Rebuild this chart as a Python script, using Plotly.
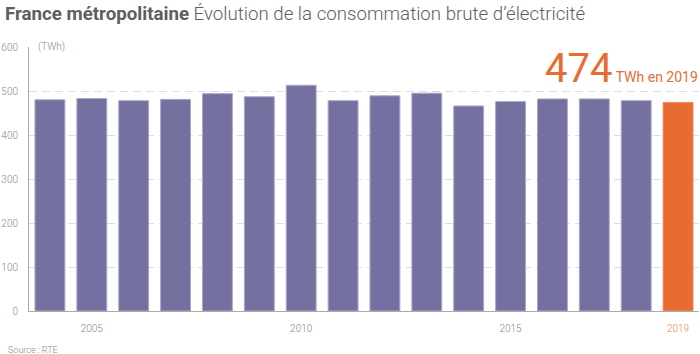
import plotly.graph_objects as go

years = list(range(2004, 2020))
values = [480, 483, 478, 481, 494, 487, 513, 478, 489, 495, 466, 476, 482, 482, 478, 474]
tick_years = [2005, 2010, 2015, 2019]
tick_labels = ["2005", "2010", "2015", "<span style='color:#ec8550'>2019</span>"]

PURPLE = "#7471a1"
ORANGE = "#e86c32"
colors = [ORANGE if y == 2019 else PURPLE for y in years]
line_colors = ["#e98a5c" if y == 2019 else "#aaa8cc" for y in years]

# plot area in pixels
L, R, T, B = 27, 699, 47, 311
W, H = 700, 354
PW, PH = R - L, B - T

def py(p):
    return (B - p) / PH

def px(p):
    return (p - L) / PW

fig = go.Figure()
fig.add_trace(go.Bar(
    x=years, y=values,
    marker=dict(color=colors, line=dict(color=line_colors, width=1)),
    hoverinfo="x+y",
))

fig.update_layout(
    width=W, height=H,
    margin=dict(l=L, r=W - R, t=T, b=H - B),
    paper_bgcolor="white", plot_bgcolor="white",
    font=dict(family="Roboto", color="#888", size=10),
    bargap=12 / 42,
    showlegend=False,
    title=dict(
        text="<b>France métropolitaine</b> Évolution de la consommation brute d’électricité",
        x=5 / W, xref="container", xanchor="left",
        y=1 - 13 / H, yref="container", yanchor="middle",
        font=dict(family="Roboto", size=18.7, color="#5e5e5e", weight=300),
    ),
    xaxis=dict(
        range=[2003.5, 2019.5],
        tickvals=tick_years, ticktext=tick_labels,
        showgrid=False, showline=True, linecolor="#aaaaaa", linewidth=1,
        ticks="", ticklabelstandoff=8,
        tickfont=dict(size=10, color="#888", weight=300),
        zeroline=False, fixedrange=True,
    ),
    yaxis=dict(
        range=[0, 600], tickvals=[0, 100, 200, 300, 400, 500, 600],
        showgrid=True, gridcolor="#dddddd", griddash="8px,5px", gridwidth=1,
        showline=True, linecolor="#aaaaaa", linewidth=1,
        ticks="", ticklabelstandoff=8,
        tickfont=dict(size=10, color="#888", weight=300),
        zeroline=False, fixedrange=True,
    ),
    shapes=[dict(
        type="rect", xref="paper", yref="paper", layer="above",
        x0=px(28), x1=px(72), y0=py(51), y1=py(43),
        fillcolor="white", line=dict(width=0),
    )],
    annotations=[
        dict(text="(TWh)", xref="paper", yref="paper", x=px(34), y=py(47),
             xanchor="left", yanchor="middle", showarrow=False,
             font=dict(size=10, color="#888", weight=300)),
        dict(text="<span style='font-size:40px'>474</span> TWh en 2019",
             xref="paper", yref="paper", x=px(700), y=py(94),
             xanchor="right", yanchor="bottom", showarrow=False,
             font=dict(size=14, color=ORANGE)),
        dict(text="Source : RTE", xref="paper", yref="paper", x=px(4), y=py(350),
             xanchor="left", yanchor="middle", showarrow=False,
             font=dict(size=9, color="#888", weight=300)),
    ],
)

fig.write_html("out.html")
